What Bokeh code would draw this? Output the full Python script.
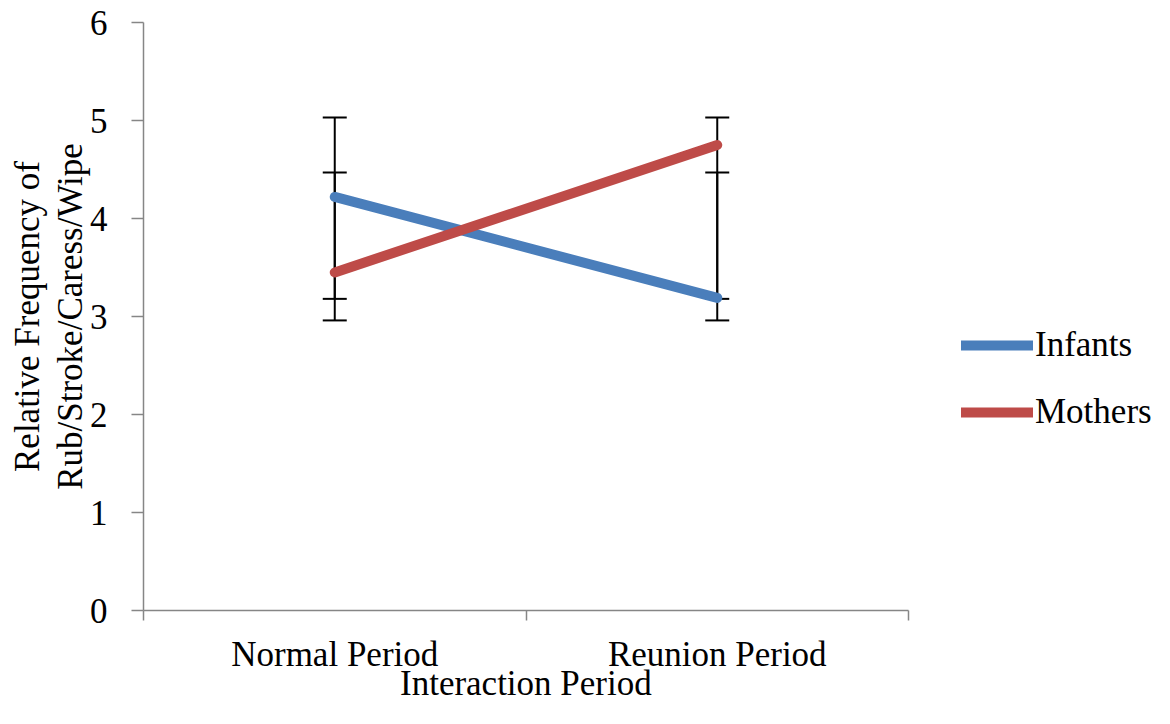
from bokeh.plotting import figure
from bokeh.models import (FixedTicker, Range1d, Legend, LegendItem, Whisker,
                          ColumnDataSource, TeeHead, Title)
from bokeh.embed import file_html
from bokeh.resources import INLINE

categories = ["Normal Period", "Reunion Period"]
infants = [4.22, 3.19]
mothers = [3.45, 4.75]
infants_lower = [2.96, 2.96]
infants_upper = [4.47, 4.47]
mothers_lower = [3.18, 3.18]
mothers_upper = [5.03, 5.03]
y_ticks = [0, 1, 2, 3, 4, 5, 6]

FONT = "Liberation Serif"
FS = "35px"

# layout (pixels)
W, H = 1154, 708
LEFT, TOP, BOTTOM, RIGHT = 143, 22, 98, 0
AXIS_PX = 765  # pixel length of the category axis

n = len(categories)
xs = [i + 0.5 for i in range(n)]
bounds = [float(i) for i in range(n + 1)]
frame_w = W - LEFT - RIGHT
x_end = n * frame_w / AXIS_PX

p = figure(width=W, height=H, output_backend="svg", toolbar_location=None,
           x_range=Range1d(0, x_end), y_range=Range1d(0, 6),
           min_border_left=LEFT, min_border_right=RIGHT, min_border_top=TOP,
           min_border_bottom=BOTTOM)
p.outline_line_color = None
p.grid.visible = False
p.background_fill_color = "white"
p.border_fill_color = "white"

axis_color = "#868686"
# y axis
p.yaxis.ticker = FixedTicker(ticks=y_ticks)
p.yaxis.axis_line_color = axis_color
p.yaxis.axis_line_width = 1.5
p.yaxis.major_tick_line_color = axis_color
p.yaxis.major_tick_line_width = 1.5
p.yaxis.major_tick_out = 12
p.yaxis.major_tick_in = 0
p.yaxis.minor_tick_line_color = None
p.yaxis.major_label_standoff = 24
p.yaxis.major_label_text_font = FONT
p.yaxis.major_label_text_font_size = FS
p.yaxis.major_label_text_color = "black"
p.yaxis.axis_label = "Relative Frequency of\nRub/Stroke/Caress/Wipe"
p.yaxis.axis_label_text_font = FONT
p.yaxis.axis_label_text_font_size = FS
p.yaxis.axis_label_text_font_style = "normal"
p.yaxis.axis_label_text_color = "black"
p.yaxis.axis_label_text_line_height = 1.1
p.yaxis.axis_label_standoff = -3

# x axis
p.xaxis.bounds = (0, n)
p.xaxis.ticker = FixedTicker(ticks=xs, minor_ticks=bounds)
p.xaxis.major_label_overrides = {x: c for x, c in zip(xs, categories)}
p.xaxis.axis_line_color = axis_color
p.xaxis.axis_line_width = 1.5
p.xaxis.major_tick_line_color = None
p.xaxis.major_tick_out = 0
p.xaxis.major_tick_in = 0
p.xaxis.minor_tick_line_color = axis_color
p.xaxis.minor_tick_line_width = 1.5
p.xaxis.minor_tick_out = 10
p.xaxis.minor_tick_in = 0
p.xaxis.major_label_standoff = 14
p.xaxis.major_label_text_font = FONT
p.xaxis.major_label_text_font_size = FS
p.xaxis.major_label_text_color = "black"

# x axis title, centred under the category axis
x_title = "Interaction Period"
title_w = 252
p.add_layout(Title(text=x_title, align="left", offset=AXIS_PX / 2 - title_w / 2,
                   text_font=FONT, text_font_size=FS, text_font_style="normal",
                   text_color="black", standoff=-30), "below")

# error bars
for lo, hi in ((infants_lower, infants_upper), (mothers_lower, mothers_upper)):
    src = ColumnDataSource(dict(x=xs, lower=lo, upper=hi))
    w = Whisker(base="x", lower="lower", upper="upper", source=src,
                line_color="black", line_width=2,
                upper_head=TeeHead(size=24, line_color="black", line_width=2),
                lower_head=TeeHead(size=24, line_color="black", line_width=2))
    p.add_layout(w)

blue = "#4A7EBB"
red = "#BE4B48"
r_inf = p.line(xs, infants, line_color=blue, line_width=10, line_cap="round")
r_mot = p.line(xs, mothers, line_color=red, line_width=10, line_cap="round")

legend = Legend(items=[LegendItem(label="Infants", renderers=[r_inf]),
                       LegendItem(label="Mothers", renderers=[r_mot])],
                location=(818, 178))
legend.label_text_font = FONT
legend.label_text_font_size = FS
legend.label_text_color = "black"
legend.glyph_width = 72
legend.glyph_height = 30
legend.label_standoff = 2
legend.spacing = 27
legend.padding = 0
legend.margin = 0
legend.border_line_color = None
legend.background_fill_alpha = 0
p.add_layout(legend, "center")

open("out.html", "w").write(file_html(p, INLINE))
